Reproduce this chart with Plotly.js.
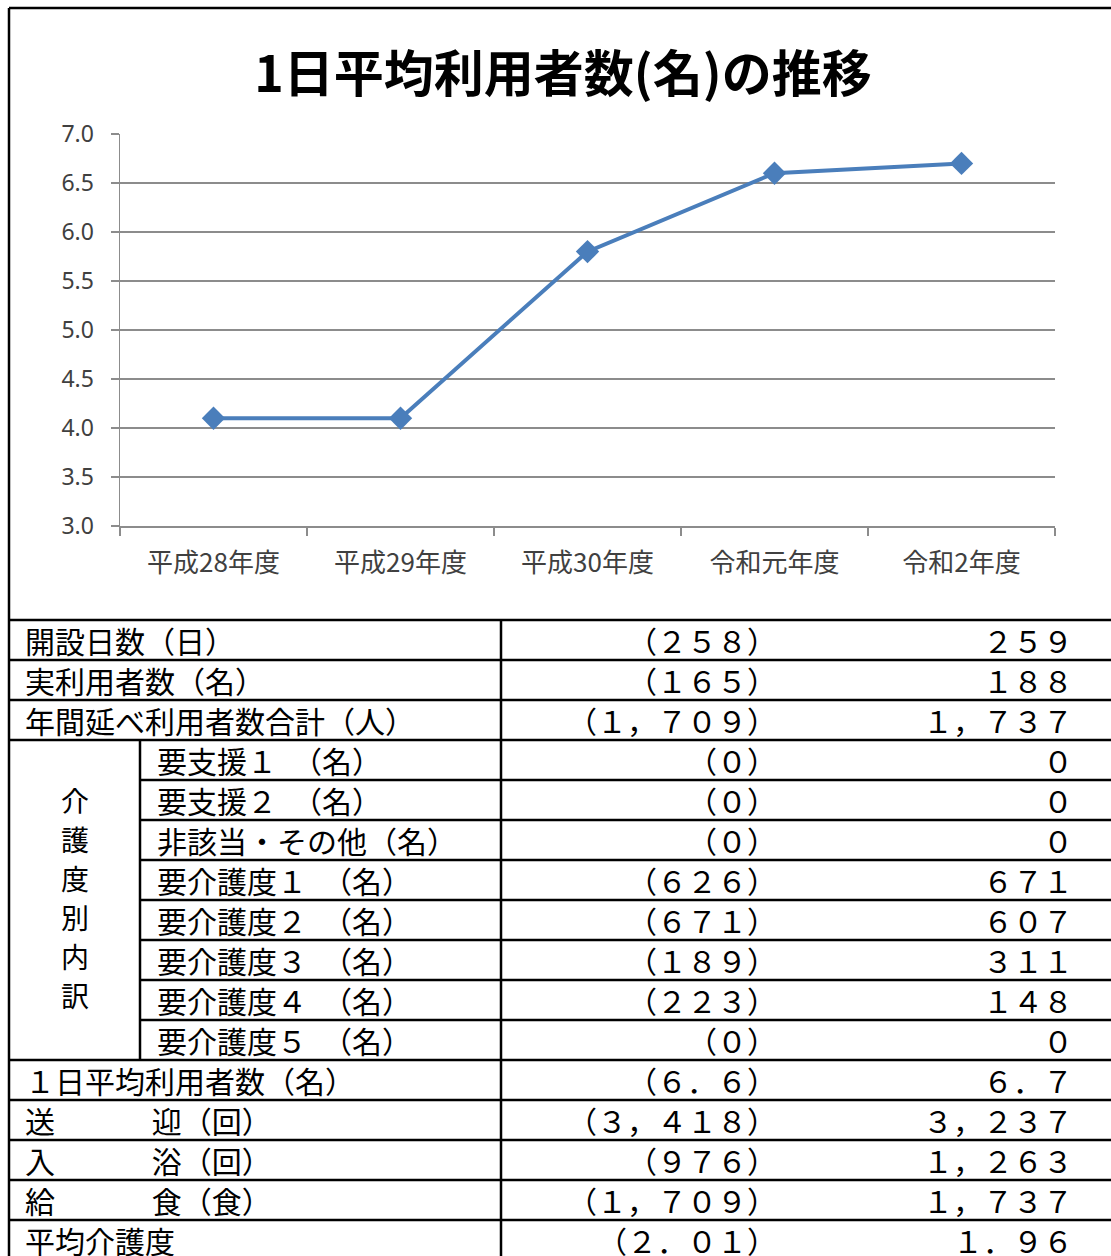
<!DOCTYPE html>
<html>
<head>
<meta charset="utf-8">
<script src="https://cdn.plot.ly/plotly-3.0.1.min.js"></script>
<style>
  html, body { margin: 0; padding: 0; background: #fff; }
  #chart { width: 1111px; height: 1256px; }
</style>
</head>
<body>
<div id="chart"></div>
<script>
// ---- chart data ----
const years = ['平成28年度', '平成29年度', '平成30年度', '令和元年度', '令和2年度'];
const dailyUsers = [4.1, 4.1, 5.8, 6.6, 6.7];
const yTicks = [3.0, 3.5, 4.0, 4.5, 5.0, 5.5, 6.0, 6.5, 7.0];

// ---- table data ----
const rowLabels = [
  '開設日数（日）', '実利用者数（名）', '年間延べ利用者数合計（人）',
  '要支援１　（名）', '要支援２　（名）', '非該当・その他（名）',
  '要介護度１　（名）', '要介護度２　（名）', '要介護度３　（名）',
  '要介護度４　（名）', '要介護度５　（名）',
  '１日平均利用者数（名）', '送　　　 迎（回）', '入　　　 浴（回）',
  '給　　　 食（食）', '平均介護度'
];
const groupLabel = '介護度別内訳';
const groupRows = [3, 10]; // first and last row index of the merged group
const prevValues = [258, 165, 1709, 0, 0, 0, 626, 671, 189, 223, 0, 6.6, 3418, 976, 1709, 2.01];
const currValues = [259, 188, 1737, 0, 0, 0, 671, 607, 311, 148, 0, 6.7, 3237, 1263, 1737, 1.96];

// ---- helpers ----
const W = 1111, H = 1256;
const M = { l: 120, r: 56, t: 134, b: 730 };
const PW = W - M.l - M.r, PH = H - M.t - M.b;
const px = x => (x - M.l) / PW;
const py = y => (H - M.b - y) / PH;

function fw(v) {
  const s = v.toLocaleString('en-US', { maximumFractionDigits: 2 });
  return s.replace(/[0-9]/g, c => String.fromCharCode(c.charCodeAt(0) + 0xFEE0))
          .replace(/,/g, '，').replace(/\./g, '．');
}

const shapes = [];
const annotations = [];
const LINE = { color: '#000', width: 2.5 };
function hline(x0, x1, y) {
  shapes.push({ type: 'line', xref: 'paper', yref: 'paper', x0: px(x0), x1: px(x1), y0: py(y), y1: py(y), line: LINE });
}
function vline(x, y0, y1) {
  shapes.push({ type: 'line', xref: 'paper', yref: 'paper', x0: px(x), x1: px(x), y0: py(y0), y1: py(y1), line: LINE });
}

// chart frame
vline(9, 8, 620);
hline(9, 1115, 8);

// table grid
const T0 = 620, RH = 40;
const nRows = rowLabels.length;
const xL = 9, xG = 140, xM = 501, xR = 1115;
for (let i = 0; i <= nRows; i++) {
  const y = T0 + i * RH;
  const inGroup = i > groupRows[0] && i <= groupRows[1];
  hline(inGroup ? xG : xL, xR, y);
}
vline(xL, T0, T0 + nRows * RH);
vline(xM, T0, T0 + nRows * RH);
vline(xG, T0 + groupRows[0] * RH, T0 + (groupRows[1] + 1) * RH);

const TF = { family: 'Noto Sans CJK JP', size: 30, color: '#000' };
for (let i = 0; i < nRows; i++) {
  const yc = T0 + i * RH + RH / 2;
  const inGroup = i >= groupRows[0] && i <= groupRows[1];
  annotations.push({ xref: 'paper', yref: 'paper', x: px(inGroup ? 155 : 23), y: py(yc),
    xanchor: 'left', yanchor: 'middle', showarrow: false, text: rowLabels[i], font: TF });
  annotations.push({ xref: 'paper', yref: 'paper', x: px(779), y: py(yc),
    xanchor: 'right', yanchor: 'middle', showarrow: false, text: '（' + fw(prevValues[i]) + '）', font: TF });
  annotations.push({ xref: 'paper', yref: 'paper', x: px(1075), y: py(yc),
    xanchor: 'right', yanchor: 'middle', showarrow: false, text: fw(currValues[i]), font: TF });
}
// vertical group label
const gChars = Array.from(groupLabel);
const gMid = T0 + (groupRows[0] + groupRows[1] + 1) / 2 * RH;
const gStep = 39;
gChars.forEach((ch, k) => {
  const yc = gMid + (k - (gChars.length - 1) / 2) * gStep - 3;
  annotations.push({ xref: 'paper', yref: 'paper', x: px(75), y: py(yc),
    xanchor: 'center', yanchor: 'middle', showarrow: false, text: ch,
    font: { family: 'Noto Sans CJK JP', size: 28, color: '#000' } });
});

const trace = {
  type: 'scatter', mode: 'lines+markers',
  x: years, y: dailyUsers,
  line: { color: '#4A7EBB', width: 4 },
  marker: { symbol: 'diamond', size: 18, color: '#4A7EBB' },
  hoverinfo: 'skip', cliponaxis: false
};

const layout = {
  width: W, height: H, autosize: false,
  margin: M,
  paper_bgcolor: '#fff', plot_bgcolor: '#fff',
  showlegend: false,
  title: {
    text: '<b>1日平均利用者数(名)の推移</b>',
    font: { family: 'Noto Sans CJK JP', size: 50, color: '#000' },
    x: 563 / W, xanchor: 'center', y: 1 - 74 / H, yanchor: 'middle'
  },
  xaxis: {
    type: 'category', range: [-0.5, 4.5],
    showline: true, linecolor: '#8C8C8C', linewidth: 1.5,
    ticks: 'outside', tickson: 'boundaries', ticklen: 8, tickcolor: '#8C8C8C', tickwidth: 1.5,
    showgrid: false, zeroline: false,
    tickfont: { family: 'Noto Sans CJK JP', size: 26, color: '#404040' },
    ticklabelstandoff: 13
  },
  yaxis: {
    range: [3, 7], tickvals: yTicks, tickformat: '.1f',
    showline: true, linecolor: '#8C8C8C', linewidth: 1.5,
    ticks: 'outside', ticklen: 8, tickcolor: '#8C8C8C', tickwidth: 1.5,
    showgrid: true, gridcolor: '#8C8C8C', gridwidth: 1.5, zeroline: false,
    tickfont: { family: 'Noto Sans', size: 23, color: '#404040' },
    ticklabelstandoff: 12
  },
  shapes: shapes,
  annotations: annotations
};

Plotly.newPlot('chart', [trace], layout, { staticPlot: true, displayModeBar: false });
</script>
</body>
</html>
